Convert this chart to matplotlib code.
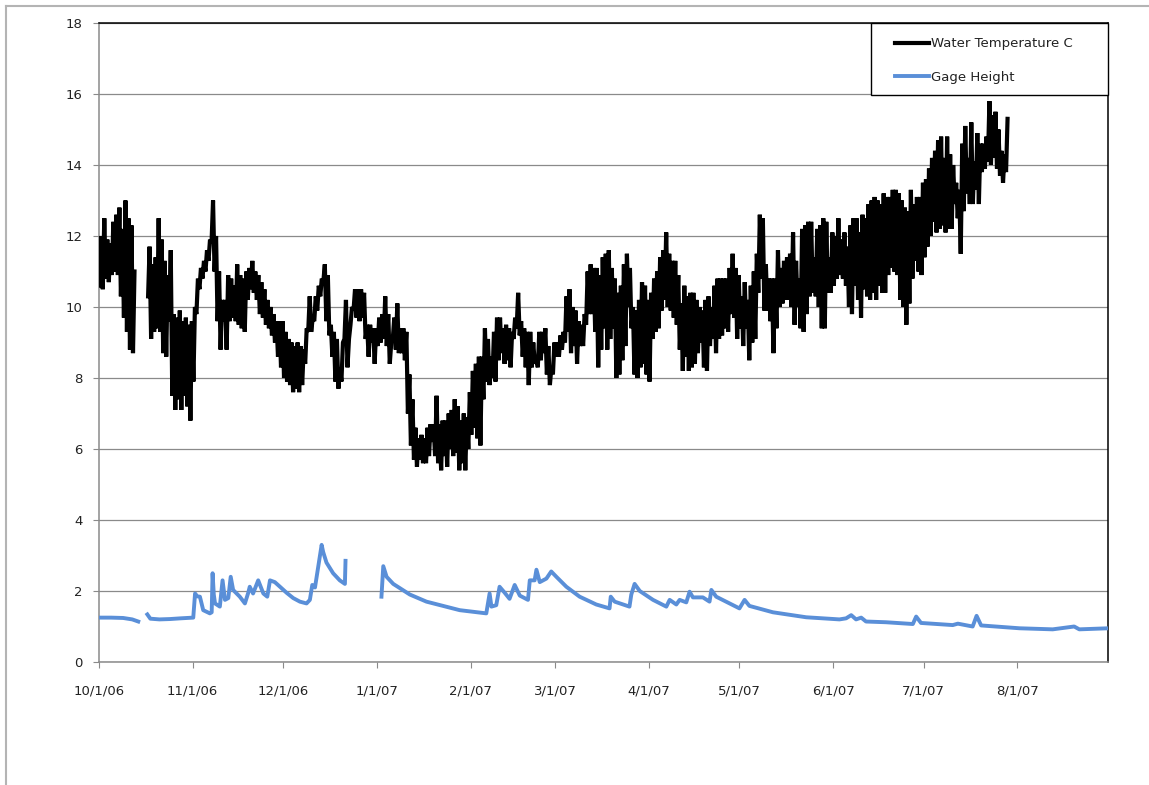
import numpy as np
import matplotlib
matplotlib.use("Agg")
import matplotlib.pyplot as plt
import matplotlib.dates as mdates
from matplotlib.lines import Line2D
from matplotlib.patches import Rectangle
from matplotlib.ticker import FuncFormatter, MultipleLocator

nan = np.nan

# daily water temperature range (deg C), one value per day starting 10/1/06
oct_hi = [12.0, 12.5, 11.9, 11.8, 12.4, 12.6, 12.8, 12.2, 13.0, 12.5, 12.3, 11.0, nan, nan, nan, nan,
          11.7, 11.2, 11.4, 12.5, 11.9, 11.3, 10.9, 11.6, 9.8, 9.7, 9.9, 9.6, 9.7, 9.5, 9.6]
oct_lo = [10.6, 10.5, 10.8, 10.7, 10.9, 11.0, 10.9, 10.3, 9.7, 9.3, 8.8, 8.7, nan, nan, nan, nan,
          10.3, 9.1, 9.3, 9.4, 9.3, 8.7, 8.6, 9.6, 7.5, 7.1, 7.4, 7.1, 7.5, 7.2, 6.8]
nov_hi = [10.0, 10.8, 11.1, 11.3, 11.6, 11.9, 13.0, 12.0, 11.0, 10.2, 10.2, 10.9, 10.8, 10.6, 11.2,
          10.9, 10.8, 11.0, 11.1, 11.3, 11.0, 10.9, 10.7, 10.5, 10.2, 10.0, 9.8, 9.6, 9.6, 9.6]
nov_lo = [7.9, 9.8, 10.5, 10.8, 11.0, 11.3, 11.8, 11.0, 9.6, 8.8, 9.6, 8.8, 9.6, 9.7, 9.6,
          9.5, 9.4, 9.3, 10.2, 10.5, 10.4, 10.2, 9.8, 9.7, 9.5, 9.4, 9.2, 9.0, 8.6, 8.3]
dec_hi = [9.3, 9.1, 9.0, 8.9, 9.0, 8.9, 8.8, 9.4, 10.3, 9.7, 10.3, 10.6, 10.8, 11.2, 10.9, 9.5,
          9.3, 9.1, 8.3, 9.0, 10.2, 9.1, 10.0, 10.5, 10.5, 10.5, 10.4, 9.5, 9.5, 9.4, 9.4]
dec_lo = [8.0, 7.9, 7.8, 7.6, 7.7, 7.6, 7.8, 8.4, 9.3, 9.3, 9.6, 9.9, 10.3, 10.7, 9.6, 9.2,
          8.6, 7.9, 7.7, 7.9, 9.1, 8.3, 9.5, 9.9, 9.7, 9.6, 9.7, 9.1, 8.6, 9.0, 8.4]
jan_hi = [9.7, 9.8, 10.3, 9.8, 9.0, 9.7, 10.1, 9.4, 9.4, 9.3, 8.1, 7.4, 6.6, 6.3, 6.4, 6.3,
          6.6, 6.7, 6.7, 7.5, 6.7, 6.8, 6.8, 7.0, 7.1, 7.4, 7.2, 6.8, 7.0, 6.9, 7.6]
jan_lo = [8.9, 9.0, 9.1, 8.9, 8.4, 9.1, 8.8, 8.7, 8.7, 8.5, 7.0, 6.1, 5.7, 5.5, 5.7, 5.6,
          5.6, 5.8, 6.2, 5.8, 5.6, 5.4, 5.8, 5.5, 6.0, 5.8, 5.9, 5.4, 5.6, 5.4, 6.0]
feb_hi = [8.2, 8.4, 8.6, 8.6, 9.4, 9.1, 8.6, 9.3, 9.7, 9.7, 9.4, 9.5, 9.4, 9.3, 9.7, 10.4,
          9.6, 9.4, 9.3, 9.3, 9.0, 8.6, 9.3, 9.3, 9.4, 8.9, 8.3, 9.0]
feb_lo = [6.4, 6.6, 6.3, 6.1, 7.4, 7.9, 7.8, 8.0, 7.9, 8.5, 8.7, 8.4, 8.5, 8.3, 9.1, 9.4,
          9.2, 8.6, 8.3, 7.8, 8.3, 8.4, 8.3, 8.5, 8.7, 8.1, 7.8, 8.1]
mar_hi = [9.0, 9.2, 9.3, 10.3, 10.5, 10.0, 9.9, 9.6, 9.5, 9.8, 11.0, 11.2, 11.1, 11.1, 10.9, 11.4,
          11.5, 11.6, 11.1, 10.8, 10.4, 10.6, 11.2, 11.5, 11.1, 10.0, 9.9, 10.2, 10.7, 10.6, 10.2]
mar_lo = [8.6, 8.6, 8.8, 9.0, 9.3, 8.7, 8.9, 8.4, 8.9, 8.9, 9.5, 9.8, 9.8, 9.3, 8.3, 8.8,
          9.4, 8.8, 9.1, 9.4, 8.0, 8.1, 8.5, 8.9, 10.0, 9.4, 8.1, 8.0, 8.3, 8.4, 8.1]
apr_hi = [10.4, 10.8, 11.0, 11.4, 11.6, 12.1, 11.5, 11.3, 11.3, 10.9, 10.1, 10.6, 10.3, 10.4, 10.4,
          10.2, 10.0, 9.9, 10.2, 10.3, 10.0, 10.6, 10.8, 10.8, 10.8, 10.8, 11.1, 11.5, 11.1, 10.9]
apr_lo = [7.9, 9.1, 9.3, 9.4, 9.9, 10.2, 10.0, 9.9, 9.7, 9.5, 8.8, 8.2, 8.6, 8.2, 8.3,
          8.4, 8.7, 9.0, 8.3, 8.2, 8.9, 9.1, 8.7, 9.1, 9.2, 9.4, 9.3, 9.8, 9.7, 9.1]
may_hi = [10.3, 10.7, 10.2, 10.6, 11.0, 11.5, 12.6, 12.5, 11.2, 10.8, 10.8, 10.8, 11.6, 11.1, 11.3, 11.4,
          11.5, 12.1, 11.3, 10.8, 12.2, 12.3, 12.4, 12.4, 11.4, 12.2, 12.3, 12.5, 12.4, 11.4, 12.1]
may_lo = [9.4, 8.9, 9.4, 8.5, 9.0, 9.1, 10.4, 10.8, 9.9, 9.9, 9.6, 8.7, 9.4, 10.0, 10.1, 10.2,
          10.2, 10.0, 9.5, 10.0, 9.4, 9.3, 9.8, 10.3, 10.4, 10.3, 10.0, 9.4, 9.4, 10.4, 10.4]
jun_hi = [12.0, 12.5, 11.9, 12.1, 11.7, 12.3, 12.5, 12.5, 12.1, 12.6, 12.5, 12.9, 13.0, 13.1, 13.0,
          12.9, 13.2, 13.1, 13.1, 13.3, 13.3, 13.2, 13.0, 12.8, 12.7, 13.3, 12.9, 13.1, 13.1, 13.5]
jun_lo = [10.6, 10.8, 10.9, 10.8, 10.6, 10.0, 9.8, 10.6, 10.2, 9.7, 10.5, 10.3, 10.2, 10.4, 10.2,
          10.6, 10.4, 10.4, 10.9, 11.1, 11.0, 10.9, 10.2, 10.0, 9.5, 10.1, 10.8, 11.3, 11.0, 10.9]
jul_hi = [13.6, 13.9, 14.2, 14.4, 14.7, 14.8, 14.2, 14.8, 14.3, 14.0, 13.5, 13.3, 14.6, 15.1,
          14.2, 15.2, 14.1, 14.9, 14.6, 14.6, 14.8, 15.8, 15.4, 15.5, 15.0, 14.4, 14.3, 15.3]
jul_lo = [11.4, 11.7, 12.0, 12.4, 12.1, 12.2, 12.3, 12.1, 12.2, 12.2, 12.9, 12.5, 11.5, 12.7,
          13.2, 12.9, 12.9, 13.3, 12.9, 13.8, 13.9, 14.1, 14.0, 14.2, 13.9, 13.7, 13.5, 13.8]

# gage height readings: days after 10/1/06 and height (nan marks missing record)
gage_day = [0, 4, 8, 11, 13, 13.5,
            16, 17, 20, 23.5, 27, 31.2, 31.8, 32.5, 33.4, 34.5, 36.7, 37.3, 37.6, 38.0, 38.4,
            40.0, 40.9, 41.7, 42.8, 43.6, 44.4, 46.6, 48.3, 49.4, 49.9, 51.0, 52.7, 54.4, 55.7,
            56.6, 58.2, 59.9, 62.1, 64.3, 66.5, 68.7, 69.8, 70.6, 71.5, 72.6, 73.7, 74.2, 75.3,
            77.5, 79.7, 81.4, 81.6, 82.0,
            93.5, 94.1, 95.2, 97.4, 102.9, 108.4, 113.9, 119.4, 128.2, 129.3, 129.9, 131.5,
            132.6, 134.3, 135.9, 137.6, 139.3, 142.0, 142.6, 144.2, 144.8, 145.9, 148.1, 149.7,
            151.4, 154.7, 159.1, 164.6, 169.0, 169.4, 170.7, 175.6, 176.2, 177.3, 179.0, 183.4,
            187.8, 188.9, 191.1, 192.2, 194.4, 195.5, 196.6, 199.9, 202.1, 202.7, 204.3, 212.0,
            213.7, 215.3, 223.1, 234.1, 245.1, 247.3, 249.0, 250.6, 252.3, 253.9, 260.5, 269.4,
            270.5, 272.1, 282.6, 284.3, 289.2, 290.5, 292.0, 304.7, 315.7, 322.8, 324.5, 334.1]
gage_ft = [1.25, 1.25, 1.24, 1.20, 1.14, nan,
           1.34, 1.22, 1.20, 1.21, 1.23, 1.25, 1.93, 1.85, 1.84, 1.46, 1.37, 1.40, 2.50, 1.90, 1.65,
           1.56, 2.30, 1.75, 1.80, 2.40, 2.03, 1.84, 1.65, 1.95, 2.12, 1.93, 2.30, 1.93, 1.84,
           2.30, 2.25, 2.12, 1.95, 1.80, 1.70, 1.65, 1.75, 2.17, 2.10, 2.70, 3.30, 3.10, 2.80,
           2.50, 2.30, 2.20, 2.85, nan,
           1.84, 2.70, 2.40, 2.20, 1.90, 1.70, 1.58, 1.46, 1.37, 1.93, 1.56, 1.60,
           2.12, 1.95, 1.78, 2.17, 1.87, 1.75, 2.30, 2.30, 2.60, 2.25, 2.35, 2.55,
           2.40, 2.12, 1.84, 1.62, 1.51, 1.84, 1.70, 1.56, 1.90, 2.20, 2.00, 1.75,
           1.56, 1.75, 1.62, 1.75, 1.68, 1.98, 1.82, 1.82, 1.70, 2.03, 1.84, 1.51,
           1.75, 1.58, 1.40, 1.26, 1.20, 1.23, 1.32, 1.20, 1.25, 1.14, 1.12, 1.07,
           1.28, 1.10, 1.04, 1.08, 1.00, 1.30, 1.03, 0.95, 0.92, 1.00, 0.92, 0.95]

start = np.datetime64("2006-10-01T00:00")


def to_dates(days):
    minutes = np.round(np.asarray(days, dtype=float) * 1440).astype("int64")
    return start + minutes.astype("timedelta64[m]")


temp_hi = np.array(oct_hi + nov_hi + dec_hi + jan_hi + feb_hi + mar_hi + apr_hi + may_hi + jun_hi + jul_hi)
temp_lo = np.array(oct_lo + nov_lo + dec_lo + jan_lo + feb_lo + mar_lo + apr_lo + may_lo + jun_lo + jul_lo)

# morning low / afternoon high for each day
day_idx = np.arange(len(temp_hi))
t_days = np.column_stack([day_idx + 0.25, day_idx + 0.75]).ravel()
t_vals = np.column_stack([temp_lo, temp_hi]).ravel()

fig = plt.figure(figsize=(11.49, 7.85), dpi=100)
ax = fig.add_axes([99 / 1149, 1 - 662 / 785, 1009 / 1149, 639 / 785])

ax.plot(to_dates(t_days), t_vals, color="black", lw=3.0, solid_joinstyle="bevel",
        label="Water Temperature C", zorder=3)
ax.plot(to_dates(gage_day), gage_ft, color="#5a8fd8", lw=2.8, solid_joinstyle="round",
        label="Gage Height", zorder=3)

ax.set_ylim(0, 18)
ax.yaxis.set_major_locator(MultipleLocator(2))
ax.set_xlim(to_dates([0])[0], to_dates([334])[0])
ax.xaxis.set_major_locator(mdates.MonthLocator(bymonth=[10, 11, 12, 1, 2, 3, 4, 5, 6, 7, 8]))


def mdy(x, pos):
    d = mdates.num2date(x)
    return f"{d.month}/{d.day}/{d:%y}"


ax.xaxis.set_major_formatter(FuncFormatter(mdy))

ax.grid(axis="y", color="#8a8a8a", lw=0.9)
ax.set_axisbelow(True)
for side in ("left", "bottom"):
    ax.spines[side].set_color("#8a8a8a")
    ax.spines[side].set_linewidth(1.1)
for side in ("top", "right"):
    ax.spines[side].set_color("black")
    ax.spines[side].set_linewidth(1.1)

ax.tick_params(axis="both", direction="out", length=4, color="#8a8a8a", labelcolor="#222222",
               labelsize=9.5)
ax.tick_params(axis="y", pad=8)
ax.tick_params(axis="x", pad=12)

# legend box in the upper right corner of the plot area
x0 = (871 - 99) / 1009
y0 = (662 - 95) / 639
ax.add_patch(Rectangle((x0, y0), 1 - x0, 1 - y0, transform=ax.transAxes, facecolor="white",
                       edgecolor="black", lw=1.0, zorder=4.5, clip_on=False))
ax.legend(loc="center left", bbox_to_anchor=((895 - 99) / 1009, (662 - 60.5) / 639), frameon=False,
          borderpad=0, borderaxespad=0, handlelength=2.6, handletextpad=0.15, labelspacing=1.55,
          fontsize=9.5, labelcolor="#222222")

# outer chart frame
fig.add_artist(Line2D([5.5 / 1149, 5.5 / 1149], [0, 1 - 5.5 / 785], color="#b4b4b4", lw=1.5))
fig.add_artist(Line2D([5.5 / 1149, 1], [1 - 5.5 / 785, 1 - 5.5 / 785], color="#b4b4b4", lw=1.5))

fig.savefig("out.png", dpi=100)
